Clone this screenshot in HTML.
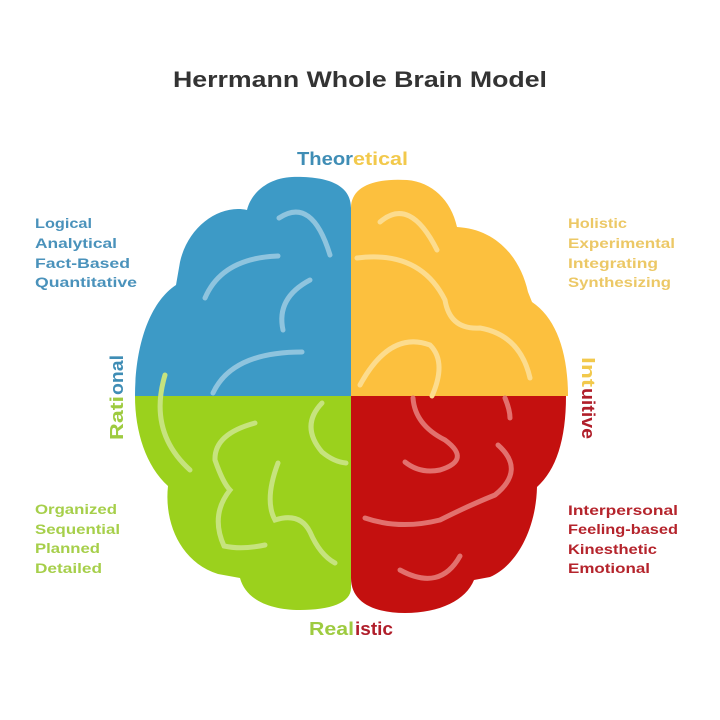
<!DOCTYPE html>
<html><head><meta charset="utf-8"><style>
html,body{margin:0;padding:0;background:#fff;}
svg{display:block;}
text{font-family:"Liberation Sans",sans-serif;}
</style></head><body>
<svg width="720" height="720" viewBox="0 0 720 720" xmlns="http://www.w3.org/2000/svg">
<rect width="720" height="720" fill="#ffffff"/>
<!-- Title -->
<text x="360" y="87" text-anchor="middle" font-size="22" font-weight="bold" fill="#333333" textLength="374" lengthAdjust="spacingAndGlyphs">Herrmann Whole Brain Model</text>

<!-- Brain quadrants -->
<path d="M351 396 L351 208 C351 186 330 176 292 177 C268 178 251 193 247 210 C220 204 188 226 180 262 L176 285 C150 302 135 345 135 396 Z" fill="#3d9ac6"/>
<path d="M351 396 L351 208 C351 186 375 178 407 180 C432 182 451 200 457 227 C495 229 520 256 528 292 L532 302 C556 318 568 352 568 396 Z" fill="#fcc03e"/>
<path d="M351 396 L135 396 C135 432 146 466 168 486 C164 522 180 562 218 574 L240 578 C246 600 270 610 300 610 C330 610 351 603 351 588 Z" fill="#9bd11d"/>
<path d="M351 396 L566 396 C566 440 556 470 537 487 C536 530 516 566 490 577 L474 580 C466 600 440 613 405 613 C375 613 351 603 351 578 Z" fill="#c4100f"/>

<!-- Highlights -->
<g fill="none" stroke-linecap="round" stroke-width="5">
<g stroke="#8fc4de">
<path d="M279 218 Q312 196 330 255"/>
<path d="M205 298 Q222 258 278 256"/>
<path d="M310 280 Q276 298 283 330"/>
<path d="M213 393 Q232 352 302 352"/>
</g>
<g stroke="#fcdc8e">
<path d="M380 222 Q410 196 437 250"/>
<path d="M357 258 Q420 250 445 300 Q450 330 480 328 Q520 335 530 378"/>
<path d="M360 385 Q390 330 430 345 Q447 362 432 396"/>
</g>
<g stroke="#c6e37e">
<path d="M165 375 Q148 432 190 470"/>
<path d="M255 423 Q214 434 215 460 Q223 483 230 490 Q210 515 224 546 Q242 550 265 545"/>
<path d="M278 463 Q264 500 275 520 Q300 512 310 532 Q320 555 335 563"/>
<path d="M322 403 Q300 426 322 452 Q334 462 346 463"/>
</g>
<g stroke="#e2716e">
<path d="M413 398 Q415 425 445 440 Q472 460 440 470 Q420 474 405 462"/>
<path d="M498 445 Q526 470 495 495 Q470 505 440 520 Q400 530 365 518"/>
<path d="M400 570 Q440 592 460 556"/>
<path d="M505 398 Q510 410 510 418"/>
</g>
</g>

<!-- Theoretical -->
<g font-weight="bold" font-size="18">
<text x="297" y="165" textLength="56" lengthAdjust="spacingAndGlyphs" fill="#3f8db5">Theor</text>
<text x="353" y="165" textLength="55" lengthAdjust="spacingAndGlyphs" fill="#f2c94c">etical</text>

<!-- Realistic -->
<text x="309" y="635" textLength="45" lengthAdjust="spacingAndGlyphs" fill="#9ecb40">Real</text>
<text x="355" y="635" textLength="38" lengthAdjust="spacingAndGlyphs" fill="#b01e2a">istic</text>

<!-- Rational -->
<g transform="translate(123,440) rotate(-90)">
<text x="0" y="0" textLength="44" lengthAdjust="spacingAndGlyphs" fill="#9ecb40">Rati</text>
<text x="45" y="0" textLength="40" lengthAdjust="spacingAndGlyphs" fill="#3f8db5">onal</text>
</g>

<!-- Intuitive -->
<g transform="translate(582,357) rotate(90)">
<text x="0" y="0" textLength="30" lengthAdjust="spacingAndGlyphs" fill="#f2c94c">Int</text>
<text x="31" y="0" textLength="51" lengthAdjust="spacingAndGlyphs" fill="#b01e2a">uitive</text>
</g>
</g>

<!-- Blue list -->
<g font-size="14" font-weight="bold" fill="#4a92bb">
<text x="35" y="228" textLength="57" lengthAdjust="spacingAndGlyphs">Logical</text>
<text x="35" y="248" textLength="82" lengthAdjust="spacingAndGlyphs">Analytical</text>
<text x="35" y="268" textLength="95" lengthAdjust="spacingAndGlyphs">Fact-Based</text>
<text x="35" y="287" textLength="102" lengthAdjust="spacingAndGlyphs">Quantitative</text>
</g>
<!-- Yellow list -->
<g font-size="14" font-weight="bold" fill="#ecc866">
<text x="568" y="228" textLength="59" lengthAdjust="spacingAndGlyphs">Holistic</text>
<text x="568" y="248" textLength="107" lengthAdjust="spacingAndGlyphs">Experimental</text>
<text x="568" y="268" textLength="90" lengthAdjust="spacingAndGlyphs">Integrating</text>
<text x="568" y="287" textLength="103" lengthAdjust="spacingAndGlyphs">Synthesizing</text>
</g>
<!-- Green list -->
<g font-size="14" font-weight="bold" fill="#a6cf4a">
<text x="35" y="514" textLength="82" lengthAdjust="spacingAndGlyphs">Organized</text>
<text x="35" y="534" textLength="85" lengthAdjust="spacingAndGlyphs">Sequential</text>
<text x="35" y="553" textLength="65" lengthAdjust="spacingAndGlyphs">Planned</text>
<text x="35" y="573" textLength="67" lengthAdjust="spacingAndGlyphs">Detailed</text>
</g>
<!-- Red list -->
<g font-size="14" font-weight="bold" fill="#b5242c">
<text x="568" y="515" textLength="110" lengthAdjust="spacingAndGlyphs">Interpersonal</text>
<text x="568" y="534" textLength="110" lengthAdjust="spacingAndGlyphs">Feeling-based</text>
<text x="568" y="554" textLength="89" lengthAdjust="spacingAndGlyphs">Kinesthetic</text>
<text x="568" y="573" textLength="82" lengthAdjust="spacingAndGlyphs">Emotional</text>
</g>
</svg>
</body></html>
